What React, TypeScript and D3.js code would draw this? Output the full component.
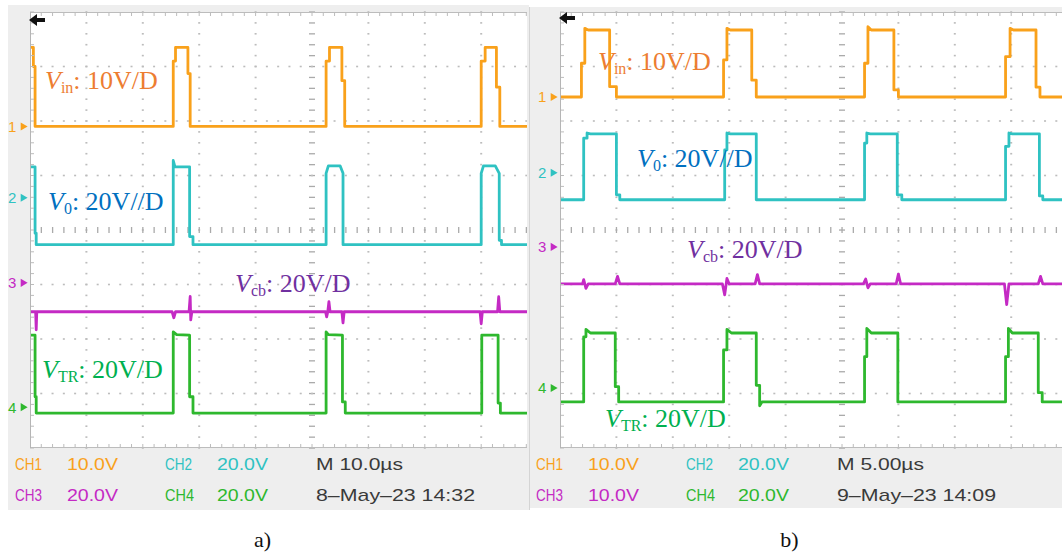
import React from "react";
import * as d3 from "d3";

type Pt = [number, number];

// scope settings
const traceColors = ["#f9a11b", "#2fc2c2", "#c42ac4", "#2eb82e"];
const aVoltsDiv = [10, 20, 20, 20];
const bVoltsDiv = [10, 20, 10, 20];
const aMarkers = [1.9, 0.59, -0.97, -3.25]; // ground markers, div from centre
const bMarkers = [2.44, 1.05, -0.31, -2.9];
const aTimeDiv = 10; // us/div
const bTimeDiv = 5;

// waveforms a), [time us, volts]
const aVin: Pt[] = [
  [-50, 14.5], [-49.4, 14.5], [-49.4, 11], [-49.1, 11], [-49.1, 0],
  [-24.6, 0], [-24.6, 12], [-24.2, 12], [-24.2, 14.5], [-22.0, 14.5], [-22.0, 9.7], [-21.6, 9.7], [-21.6, 0],
  [2.5, 0], [2.5, 12], [3.1, 12], [3.1, 14.5], [5.3, 14.5], [5.3, 8.4], [5.8, 8.4], [5.8, 0],
  [30.0, 0], [30.0, 12], [30.7, 12], [30.7, 14.5], [32.7, 14.5], [32.7, 7.2], [33.3, 7.2], [33.3, 0],
  [38.5, 0],
];
const aV0: Pt[] = [
  [-50, 11.4], [-49.1, 11.4], [-49.1, -13], [-48.9, -13], [-48.9, -17.2],
  [-24.6, -17.2], [-24.6, 13.7], [-24.3, 11.4], [-21.7, 11.4], [-21.7, -14.2], [-21.1, -14.2], [-21.1, -17.2],
  [2.5, -17.2], [2.5, 9], [2.9, 11.7], [5.0, 11.7], [5.5, 9], [5.5, -17.2],
  [30.0, -17.2], [30.0, 9], [30.4, 11.7], [32.5, 11.7], [33.2, 9], [33.2, -15.6], [33.6, -15.6], [33.6, -17.2],
  [38.5, -17.2],
];
const aVcb: Pt[] = [
  [-50, -10.6], [-49.0, -10.6], [-48.9, -17.2], [-48.8, -10.6],
  [-24.8, -10.6], [-24.5, -12.8], [-24.2, -10.6],
  [-21.8, -10.6], [-21.6, -5.0], [-21.5, -13.6], [-21.3, -10.6],
  [2.4, -10.6], [2.6, -12.5], [2.8, -10.6], [3.0, -6.9], [3.2, -10.6],
  [5.3, -10.6], [5.5, -14.7], [5.7, -10.6],
  [29.8, -10.6], [30.0, -15], [30.2, -10.6],
  [32.9, -10.6], [33.1, -5.1], [33.3, -10.6],
  [38.5, -10.6],
];
const aVtr: Pt[] = [
  [-50, 26.4], [-49.1, 26.4], [-49.1, 3.8], [-48.9, 3.8], [-48.9, -2.2],
  [-24.6, -2.2], [-24.6, 27.6], [-24.0, 26.6], [-21.7, 26.4], [-21.7, 3.8], [-21.1, 3.8], [-21.1, -2.2],
  [2.5, -2.2], [2.5, 27.6], [2.9, 26.6], [5.4, 26.4], [5.4, 1.9], [5.9, 1.9], [5.9, -2.2],
  [30.1, -2.2], [30.1, 26.4], [33.0, 26.4], [33.0, 1.5], [33.4, 1.5], [33.4, -2.2],
  [38.5, -2.2],
];

// waveforms b)
const bVin: Pt[] = [
  [-25, 0], [-23.1, 0], [-23.1, 6.2], [-22.8, 6.2], [-22.8, 12.6], [-22.5, 12.3], [-20.6, 12.3], [-20.6, 1.9], [-20.0, 1.9], [-20.0, 0],
  [-10.5, 0], [-10.5, 6.8], [-10.2, 6.8], [-10.2, 12.6], [-9.9, 12.3], [-8.0, 12.3], [-8.0, 3.1], [-7.6, 3.1], [-7.6, 0],
  [2.0, 0], [2.0, 6.2], [2.3, 6.2], [2.3, 12.9], [2.6, 12.3], [4.6, 12.3], [4.6, 1.3], [5.0, 1.3], [5.0, 0],
  [14.5, 0], [14.5, 7.4], [14.9, 7.4], [14.9, 12.6], [15.2, 12.3], [17.2, 12.3], [17.2, 1.8], [17.55, 1.8], [17.55, 0],
  [20, 0],
];
const bV0: Pt[] = [
  [-25, -9.9], [-22.9, -9.9], [-22.9, 12.7], [-22.6, 12.7], [-22.6, 14.6], [-22.3, 14.3], [-20.0, 14.3], [-20.0, -8.1], [-19.7, -8.1], [-19.7, -9.9],
  [-10.4, -9.9], [-10.4, 8.4], [-10.2, 8.4], [-10.2, 14.6], [-9.9, 14.3], [-7.6, 14.3], [-7.6, -9.9],
  [2.0, -9.9], [2.0, 10.9], [2.2, 10.9], [2.2, 14.6], [2.5, 14.3], [4.9, 14.3], [4.9, -8.1], [5.3, -8.1], [5.3, -9.9],
  [14.5, -9.9], [14.5, 9.7], [14.8, 9.7], [14.8, 14.6], [15.1, 14.3], [17.5, 14.3], [17.5, -8.5], [17.8, -8.5], [17.8, -9.9],
  [20, -9.9],
];
const bVcb: Pt[] = [
  [-25, -6.8], [-23.0, -6.8], [-22.9, -6.0], [-22.7, -7.6], [-22.5, -6.8],
  [-20.1, -6.8], [-19.9, -5.4], [-19.7, -6.8],
  [-10.6, -6.8], [-10.4, -8.8], [-10.2, -5.8], [-10.0, -6.8],
  [-7.7, -6.8], [-7.5, -5.1], [-7.3, -6.8],
  [1.9, -6.8], [2.1, -5.9], [2.3, -7.5], [2.5, -6.8],
  [4.8, -6.8], [5.0, -5.0], [5.2, -6.8],
  [14.4, -6.8], [14.6, -10.6], [14.8, -6.8],
  [17.4, -6.8], [17.6, -5.4], [17.8, -6.8],
  [20, -6.8],
];
const bVtr: Pt[] = [
  [-25, -5.1], [-22.9, -5.1], [-22.9, 18.8], [-22.7, 18.8], [-22.7, 21.5], [-22.3, 20.2], [-20.1, 20.2], [-20.1, 0.5], [-19.8, 0.5], [-19.8, -5.1],
  [-10.5, -5.1], [-10.5, 14.0], [-10.2, 14.0], [-10.2, 21.5], [-9.8, 20.2], [-7.6, 20.2], [-7.6, 1.0], [-7.3, 1.0], [-7.3, -6.5], [-7.1, -5.1],
  [2.0, -5.1], [2.0, 11.5], [2.2, 11.5], [2.2, 21.9], [2.6, 20.2], [4.95, 20.2], [4.95, -5.1],
  [14.5, -5.1], [14.5, 11.5], [14.75, 11.5], [14.75, 21.9], [15.1, 20.2], [17.4, 20.2], [17.4, -1.7], [17.75, -1.7], [17.75, -5.1],
  [20, -5.1],
];

const labelSubs = ["in", "0", "cb", "TR"];
const labelScales = ["10V/D", "20V//D", "20V/D", "20V/D"];
const labelColors = ["#ed7d31", "#0070c0", "#7030a0", "#00b050"];

const aFooter1 = ["CH1", "10.0V", "CH2", "20.0V", "M 10.0\u00b5s"];
const aFooter2 = ["CH3", "20.0V", "CH4", "20.0V", "8\u2013May\u201323 14:32"];
const bFooter1 = ["CH1", "10.0V", "CH2", "20.0V", "M 5.00\u00b5s"];
const bFooter2 = ["CH3", "10.0V", "CH4", "20.0V", "9\u2013May\u201323 14:09"];

// layout
const W = 1062, H = 554;
const DIV = 56.4;
const footX = [7, 59, 157, 209, 308];
const footW1 = [27, 51, 27, 51, 87];
const footW2 = [27, 51, 29, 51, 159];

function Scope(props: any) {
  const { id, grayL, grayR, grayT, grayB, plotL, plotR, timeDiv, voltsDiv, markers, traces, labels, foot1, foot2, caption, arrowY } = props;
  const top = 12, bottom = 448;
  const xDiv = d3.scaleLinear().domain([0, 10]).range([plotL, plotL + 10 * DIV]);
  const yDiv = d3.scaleLinear().domain([-4, 4]).range([bottom, top]);
  const tScale = d3.scaleLinear().domain([-5 * timeDiv, 5 * timeDiv]).range(xDiv.range());
  const minorX = d3.range(0, 10.001, 0.2);
  const minorY = d3.range(-4, 4.001, 0.2);
  const grid = "#bcbcbc";
  const c1 = [traceColors[0], traceColors[0], traceColors[1], traceColors[1], "#3a3a3a"];
  const c2 = [traceColors[2], traceColors[2], traceColors[3], traceColors[3], "#3a3a3a"];

  return (
    <g>
      <rect x={grayL} y={grayT} width={grayR - grayL} height={grayB - grayT} fill="#eeeeee" />
      <rect x={plotL} y={top} width={plotR - plotL} height={bottom - top} fill="#ffffff" />
      <clipPath id={id}>
        <rect x={plotL} y={top - 2} width={plotR - plotL} height={bottom - top + 4} />
      </clipPath>
      <g clipPath={`url(#${id})`}>
        {d3.range(1, 10).map((i) =>
          i === 5
            ? minorY.map((j) => (
                <rect key={`c${j}`} x={xDiv(5) - 3} y={yDiv(j) - 0.6} width={6} height={1.3} fill="#aaaaaa" />
              ))
            : minorY.map((j) => (
                <rect key={`v${i}-${j}`} x={xDiv(i) - 1} y={yDiv(j) - 0.8} width={2} height={1.6} fill={grid} />
              ))
        )}
        {d3.range(-3, 4).map((i) =>
          i === 0
            ? minorX.map((j) => (
                <rect key={`h${j}`} x={xDiv(j) - 0.6} y={yDiv(0) - 3} width={1.3} height={6} fill="#aaaaaa" />
              ))
            : minorX.map((j) => (
                <rect key={`r${i}-${j}`} x={xDiv(j) - 1} y={yDiv(i) - 0.8} width={2} height={1.6} fill={grid} />
              ))
        )}
        {minorX.map((j) => (
          <g key={`t${j}`}>
            <line x1={xDiv(j)} x2={xDiv(j)} y1={top} y2={top + 4} stroke={grid} />
            <line x1={xDiv(j)} x2={xDiv(j)} y1={bottom} y2={bottom - 4} stroke={grid} />
          </g>
        ))}
        <line x1={plotL} x2={plotR} y1={top + 0.5} y2={top + 0.5} stroke={grid} />
        <line x1={plotL} x2={plotR} y1={bottom - 0.5} y2={bottom - 0.5} stroke={grid} />
        {traces.map((tr: Pt[], k: number) => {
          const line = d3
            .line<Pt>()
            .x((d) => tScale(d[0]))
            .y((d) => yDiv(markers[k] + d[1] / voltsDiv[k]));
          return (
            <path key={k} d={line(tr) || ""} fill="none" stroke={traceColors[k]} strokeWidth={2.8}
              strokeLinejoin="round" strokeLinecap="round" />
          );
        })}
      </g>
      {minorY.map((j) => (
        <line key={`l${j}`} x1={plotL} x2={plotL + 4} y1={yDiv(j)} y2={yDiv(j)} stroke={grid} />
      ))}
      <line x1={plotL + 0.5} x2={plotL + 0.5} y1={top} y2={bottom} stroke="#b5b5b5" />
      <path d={`M${plotL - 1},${arrowY} l8,-6 v4 h8 v4 h-8 v4 z`} fill="#111" />
      {markers.map((m: number, k: number) => (
        <g key={`m${k}`} fill={traceColors[k]}>
          <text x={plotL - 22} y={yDiv(m)} dy="0.36em" fontFamily="Liberation Sans, Arial, sans-serif" fontSize={15}>
            {k + 1}
          </text>
          <path d={d3.symbol().type(d3.symbolTriangle).size(28)() || ""}
            transform={`translate(${plotL - 7},${yDiv(m)}) rotate(90)`} />
        </g>
      ))}
      {labels.map((p: Pt, k: number) => (
        <text key={`lab${k}`} x={p[0]} y={p[1]} fill={labelColors[k]} fontFamily="Liberation Serif, Times New Roman, serif" fontSize={26}>
          <tspan fontStyle="italic">V</tspan>
          <tspan fontSize={16} dy={4}>{labelSubs[k]}</tspan>
          <tspan dy={-4}>{": " + labelScales[k]}</tspan>
        </text>
      ))}
      {[foot1, foot2].map((row: string[], r: number) =>
        row.map((s, k) => (
          <text key={`f${r}-${k}`} x={grayL + footX[k]} y={r === 0 ? 470 : 501} fill={(r === 0 ? c1 : c2)[k]}
            fontFamily="Liberation Sans, Arial, sans-serif" fontSize={17}
            textLength={(r === 0 ? footW1 : footW2)[k]} lengthAdjust="spacingAndGlyphs">
            {s}
          </text>
        ))
      )}
      <text x={(grayL + grayR) / 2 - 6} y={547} textAnchor="middle" fontFamily="Liberation Serif, Times New Roman, serif" fontSize={22} fill="#111">
        {caption}
      </text>
    </g>
  );
}

export default function App() {
  return (
    <svg width={W} height={H} style={{ position: "absolute", left: 0, top: 0, background: "#fff" }}>
      <Scope id="clipA" grayL={8} grayR={529} grayT={5} grayB={510} plotL={30} plotR={527} arrowY={20}
        timeDiv={aTimeDiv} voltsDiv={aVoltsDiv} markers={aMarkers} traces={[aVin, aV0, aVcb, aVtr]}
        labels={[[45, 89], [48, 210], [235, 292], [42, 378]]}
        foot1={aFooter1} foot2={aFooter2} caption="a)" />
      <Scope id="clipB" grayL={529} grayR={1062} grayT={7} grayB={508} plotL={560} plotR={1062} arrowY={18}
        timeDiv={bTimeDiv} voltsDiv={bVoltsDiv} markers={bMarkers} traces={[bVin, bV0, bVcb, bVtr]}
        labels={[[598, 70], [637, 167], [687, 258], [605, 427]]}
        foot1={bFooter1} foot2={bFooter2} caption="b)" />
      <line x1={529.5} x2={529.5} y1={7} y2={510} stroke="#d4d4d4" />
    </svg>
  );
}
